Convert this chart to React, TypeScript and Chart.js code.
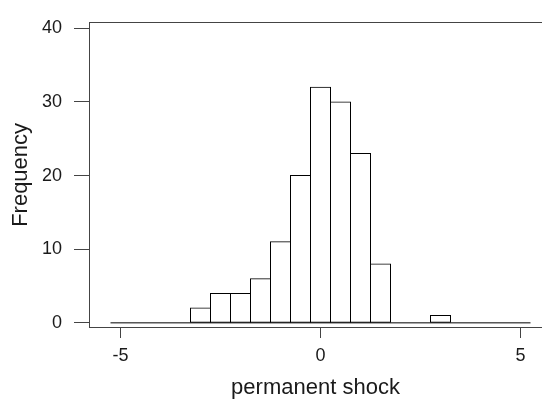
import React, { useEffect, useRef } from "react";
import { Chart, registerables } from "chart.js";

Chart.register(...registerables);

// Histogram bin centres (bin width 0.5) and counts
const binCenters = [-5, -4.5, -4, -3.5, -3, -2.5, -2, -1.5, -1, -0.5, 0, 0.5, 1, 1.5, 2, 2.5, 3, 3.5, 4, 4.5, 5];
const counts = [0, 0, 0, 0, 2, 4, 4, 6, 11, 20, 32, 30, 23, 8, 0, 0, 1, 0, 0, 0, 0];
const binWidth = 0.5;
const xTicks = [-5, 0, 5];
const yTicks = [0, 10, 20, 30, 40];
const xTitle = "permanent shock";
const yTitle = "Frequency";

const X_MIN = -5.7875;
const X_MAX = 5.5375;
const Y_MIN = -0.564;
const Y_MAX = 40.75;

const FONT = "'Liberation Sans', Arial, Helvetica, sans-serif";
const AXIS = "#444";
const TEXT = "#1a1a1a";

export default function App() {
  const ref = useRef<HTMLCanvasElement | null>(null);

  useEffect(() => {
    document.body.style.margin = "0";
    document.body.style.overflow = "hidden";
    const canvas = ref.current;
    if (!canvas) return;

    const barData = binCenters.map((x, i) => ({ x, y: counts[i] }));
    const first = binCenters[0] - binWidth / 2;
    const last = binCenters[binCenters.length - 1] + binWidth / 2;
    const baseline = [
      { x: first, y: 0 },
      { x: last, y: 0 },
    ];

    const chart = new Chart(canvas, {
      type: "bar",
      data: {
        datasets: [
          {
            type: "line",
            data: baseline,
            borderColor: "#000",
            borderWidth: 1,
            pointRadius: 0,
            fill: false,
            order: 0,
            xAxisID: "x",
            yAxisID: "y",
          } as any,
          {
            type: "bar",
            data: barData,
            backgroundColor: "#fff",
            borderColor: "#000",
            borderWidth: 1,
            borderSkipped: false,
            inflateAmount: 0.5,
            barPercentage: 1,
            categoryPercentage: 1,
            order: 1,
            xAxisID: "x",
            yAxisID: "y",
          } as any,
        ],
      },
      options: {
        responsive: false,
        animation: false,
        layout: { padding: { top: 12, right: 0, bottom: 0, left: 0 } },
        plugins: {
          legend: { display: false },
          tooltip: { enabled: false },
        },
        scales: {
          x: {
            type: "linear",
            position: "bottom",
            offset: false,
            min: X_MIN,
            max: X_MAX,
            afterBuildTicks: (axis: any) => {
              axis.ticks = xTicks.map((v) => ({ value: v }));
            },
            afterFit: (axis: any) => {
              axis.height = 74;
            },
            grid: {
              display: true,
              offset: false,
              drawOnChartArea: false,
              drawTicks: true,
              tickLength: 11,
              color: AXIS,
              lineWidth: 1,
            },
            border: { display: true, color: AXIS, width: 1 },
            ticks: {
              color: TEXT,
              font: { family: FONT, size: 18 },
              padding: 7,
              maxRotation: 0,
              autoSkip: false,
              callback: (v: any) => String(v),
            },
            title: {
              display: true,
              text: xTitle,
              color: TEXT,
              font: { family: FONT, size: 22 },
              padding: { top: 0, bottom: 0 },
            },
          },
          xTop: {
            type: "linear",
            position: "top",
            offset: false,
            min: X_MIN,
            max: X_MAX,
            afterFit: (axis: any) => {
              axis.height = 0;
            },
            grid: { display: false, offset: false, drawTicks: false },
            border: { display: true, color: AXIS, width: 1 },
            ticks: { display: false },
          },
          y: {
            type: "linear",
            position: "left",
            min: Y_MIN,
            max: Y_MAX,
            afterBuildTicks: (axis: any) => {
              axis.ticks = yTicks.map((v) => ({ value: v }));
            },
            afterFit: (axis: any) => {
              axis.width = 89;
            },
            grid: {
              display: true,
              drawOnChartArea: false,
              drawTicks: true,
              tickLength: 15,
              color: AXIS,
              lineWidth: 1,
            },
            border: { display: true, color: AXIS, width: 1 },
            ticks: {
              color: TEXT,
              font: { family: FONT, size: 18 },
              padding: 12,
              autoSkip: false,
              callback: (v: any) => String(v),
            },
            title: {
              display: true,
              text: yTitle,
              color: TEXT,
              font: { family: FONT, size: 22 },
              padding: { top: 8, bottom: 0 },
            },
          },
        },
      },
    });

    return () => chart.destroy();
  }, []);

  return (
    <canvas
      ref={ref}
      width={542}
      height={401}
      style={{ display: "block", width: 542, height: 401 }}
    />
  );
}
